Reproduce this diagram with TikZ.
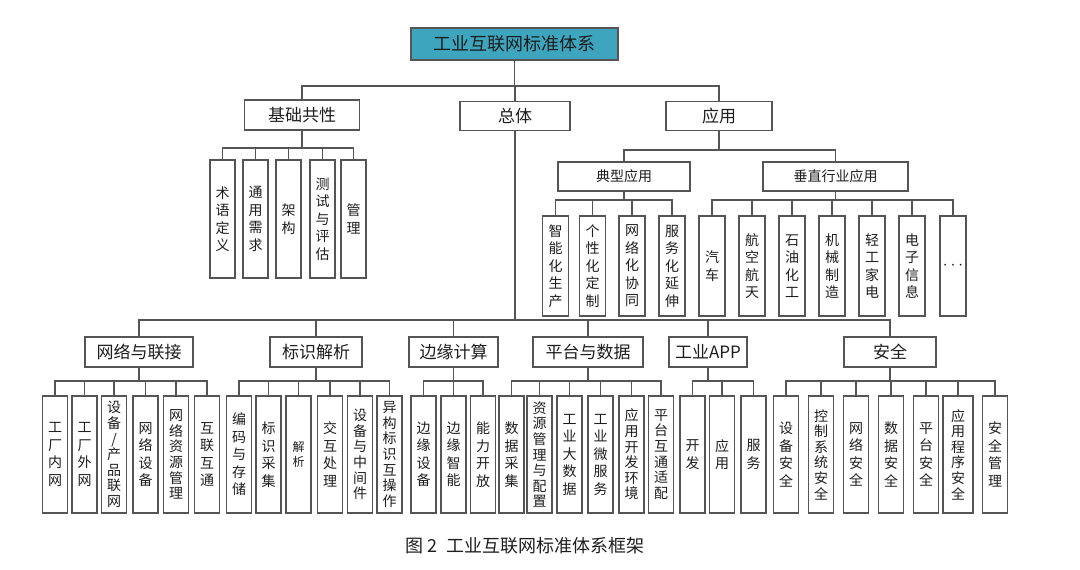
\documentclass[tikz,border=0pt]{standalone}
\usepackage{fontspec}
\setmainfont{Noto Sans CJK SC}
\usepackage{xcolor}
\usetikzlibrary{positioning}
\definecolor{rootfill}{HTML}{3DA5BE}
\definecolor{linegray}{HTML}{555555}
\definecolor{textgray}{HTML}{1E1E1E}
\tikzset{
  box/.style={draw=linegray, line width=1.2pt, fill=white, inner sep=0pt,
              text=textgray, font=\fontsize{17}{20}\selectfont},
  leaf/.style={draw=linegray, line width=1.2pt, fill=white, inner sep=0pt,
               minimum width=25pt, align=center, text=textgray,
               font=\fontsize{14}{17.5}\selectfont},
  tight/.style={font=\fontsize{14}{15.6}\selectfont},
  link/.style={draw=linegray, line width=1.1pt},
}

\begin{document}
\begin{tikzpicture}[x=1pt, y=-1pt]
  \useasboundingbox (0,0) rectangle (1080,570);

  %% === Top ===
  \node[box, fill=rootfill, minimum width=207pt, minimum height=32pt,
        font=\fontsize{18}{21}\selectfont] at (514.5,44) (root) {工业互联网标准体系};

  \node[box, minimum width=115pt, minimum height=30pt] at (302,115) (jcgx) {基础共性};
  \node[box, minimum width=110pt, minimum height=29pt] at (515,116) (zt) {总体};
  \node[box, minimum width=106pt, minimum height=29pt] at (719,116) (yy) {应用};

  \coordinate (busroot) at (0,86);
  \foreach \c in {jcgx, zt, yy}
    \draw[link] (root.south) |- (busroot -| \c) -- (\c.north);

  % 基础共性 leaves
  \begin{scope}[every node/.append style={leaf, minimum height=118pt}]
    \node at (222.5,219) (jc1) {术\\语\\定\\义};
    \node at (255.5,219) (jc2) {通\\用\\需\\求};
    \node at (288.5,219) (jc3) {架\\构};
    \node at (322.5,219) (jc4) {测\\试\\与\\评\\估};
    \node at (353.5,219) (jc5) {管\\理};
  \end{scope}
  \coordinate (busjc) at (0,148);
  \foreach \c in {jc1, jc2, jc3, jc4, jc5}
    \draw[link] (jcgx.south) |- (busjc -| \c) -- (\c.north);

  %% === 应用 ===
  \node[box, minimum width=132pt, minimum height=29pt,
        font=\fontsize{14}{17}\selectfont] at (624,176.5) (dxyy) {典型应用};
  \node[box, minimum width=145pt, minimum height=29pt,
        font=\fontsize{14}{17}\selectfont] at (835.5,176.5) (czhy) {垂直行业应用};
  \coordinate (busyy) at (0,150);
  \foreach \c in {dxyy, czhy}
    \draw[link] (yy.south) |- (busyy -| \c) -- (\c.north);

  \begin{scope}[every node/.append style={leaf, minimum height=100pt, minimum width=26pt}]
    \node at (555.5,266) (dx1) {智\\能\\化\\生\\产};
    \node at (592.5,266) (dx2) {个\\性\\化\\定\\制};
    \node at (632,266) (dx3) {网\\络\\化\\协\\同};
    \node at (672,266) (dx4) {服\\务\\化\\延\\伸};

    \node at (712,266) (cz1) {汽\\车};
    \node at (752,266) (cz2) {航\\空\\航\\天};
    \node at (792,266) (cz3) {石\\油\\化\\工};
    \node at (832,266) (cz4) {机\\械\\制\\造};
    \node at (872,266) (cz5) {轻\\工\\家\\电};
    \node at (912,266) (cz6) {电\\子\\信\\息};
    \node[font=\fontsize{18}{20}\selectfont] at (953,266) (cz7) {$\cdots$};
  \end{scope}
  \coordinate (busdx) at (0,200);
  \foreach \c in {dx1, dx2, dx3, dx4}
    \draw[link] (dxyy.south) |- (busdx -| \c) -- (\c.north);
  \foreach \c in {cz1, cz2, cz3, cz4, cz5, cz6, cz7}
    \draw[link] (czhy.south) |- (busdx -| \c) -- (\c.north);

  %% === 总体: second level ===
  \node[box, minimum width=108pt, minimum height=30pt] at (139,352) (wl) {网络与联接};
  \node[box, minimum width=92pt, minimum height=30pt] at (316,352) (bs) {标识解析};
  \node[box, minimum width=89pt, minimum height=30pt] at (453.5,352) (by) {边缘计算};
  \node[box, minimum width=110pt, minimum height=30pt] at (588,352) (pt) {平台与数据};
  \node[box, minimum width=78pt, minimum height=30pt] at (708,352) (app) {工业APP};
  \node[box, minimum width=92pt, minimum height=30pt] at (890,352) (aq) {安全};

  \coordinate (buszt) at (0,320);
  \foreach \c in {wl, bs, by, pt, app, aq}
    \draw[link] (zt.south) |- (buszt -| \c) -- (\c.north);

  %% === bottom leaves ===
  \begin{scope}[every node/.append style={leaf, minimum height=117pt}]
    % 网络与联接
    \node at (55,454.5) (wl1) {工\\厂\\内\\网};
    \node at (84.5,454.5) (wl2) {工\\厂\\外\\网};
    \node[tight] at (114,454.5) (wl3) {设\\备\\/\\产\\品\\联\\网};
    \node at (145.5,454.5) (wl4) {网\\络\\设\\备};
    \node[tight] at (176,454.5) (wl5) {网\\络\\资\\源\\管\\理};
    \node at (207,454.5) (wl6) {互\\联\\互\\通};
    % 标识解析
    \node at (239,454.5) (bs1) {编\\码\\与\\存\\储};
    \node at (268.5,454.5) (bs2) {标\\识\\采\\集};
    \node[font=\fontsize{12}{15}\selectfont] at (298.5,454.5) (bs3) {解\\析};
    \node at (330,454.5) (bs4) {交\\互\\处\\理};
    \node[tight] at (360,454.5) (bs5) {设\\备\\与\\中\\间\\件};
    \node[tight] at (389.5,454.5) (bs6) {异\\构\\标\\识\\互\\操\\作};
    % 边缘计算
    \node at (423.5,454.5) (by1) {边\\缘\\设\\备};
    \node at (453.5,454.5) (by2) {边\\缘\\智\\能};
    \node at (483,454.5) (by3) {能\\力\\开\\放};
    % 平台与数据
    \node at (511.5,454.5) (pt1) {数\\据\\采\\集};
    \node[tight] at (539.5,454.5) (pt2) {资\\源\\管\\理\\与\\配\\置};
    \node at (569.5,454.5) (pt3) {工\\业\\大\\数\\据};
    \node at (600.5,454.5) (pt4) {工\\业\\微\\服\\务};
    \node[tight] at (631.5,454.5) (pt5) {应\\用\\开\\发\\环\\境};
    \node[tight] at (661,454.5) (pt6) {平\\台\\互\\通\\适\\配};
    % 工业APP
    \node at (692.5,454.5) (app1) {开\\发};
    \node at (722,454.5) (app2) {应\\用};
    \node at (753.5,454.5) (app3) {服\\务};
    % 安全
    \node at (786,454.5) (aq1) {设\\备\\安\\全};
    \node[tight] at (821,454.5) (aq2) {控\\制\\系\\统\\安\\全};
    \node at (856,454.5) (aq3) {网\\络\\安\\全};
    \node at (891,454.5) (aq4) {数\\据\\安\\全};
    \node at (926,454.5) (aq5) {平\\台\\安\\全};
    \node[tight, minimum width=30pt] at (958,454.5) (aq6) {应\\用\\程\\序\\安\\全};
    \node at (995,454.5) (aq7) {安\\全\\管\\理};
  \end{scope}

  \coordinate (busleaf) at (0,381);
  \foreach \c in {wl1, wl2, wl3, wl4, wl5, wl6}
    \draw[link] (wl.south) |- (busleaf -| \c) -- (\c.north);
  \foreach \c in {bs1, bs2, bs3, bs4, bs5, bs6}
    \draw[link] (bs.south) |- (busleaf -| \c) -- (\c.north);
  \foreach \c in {by1, by2, by3}
    \draw[link] (by.south) |- (busleaf -| \c) -- (\c.north);
  \foreach \c in {pt1, pt2, pt3, pt4, pt5, pt6}
    \draw[link] (pt.south) |- (busleaf -| \c) -- (\c.north);
  \foreach \c in {app1, app2, app3}
    \draw[link] (app.south) |- (busleaf -| \c) -- (\c.north);
  \foreach \c in {aq1, aq2, aq3, aq4, aq5, aq6, aq7}
    \draw[link] (aq.south) |- (busleaf -| \c) -- (\c.north);

  % caption
  \node[text=textgray, font=\fontsize{18}{21}\selectfont] at (525,546) (caption)
    {图 2\ \ 工业互联网标准体系框架};

\end{tikzpicture}
\end{document}
